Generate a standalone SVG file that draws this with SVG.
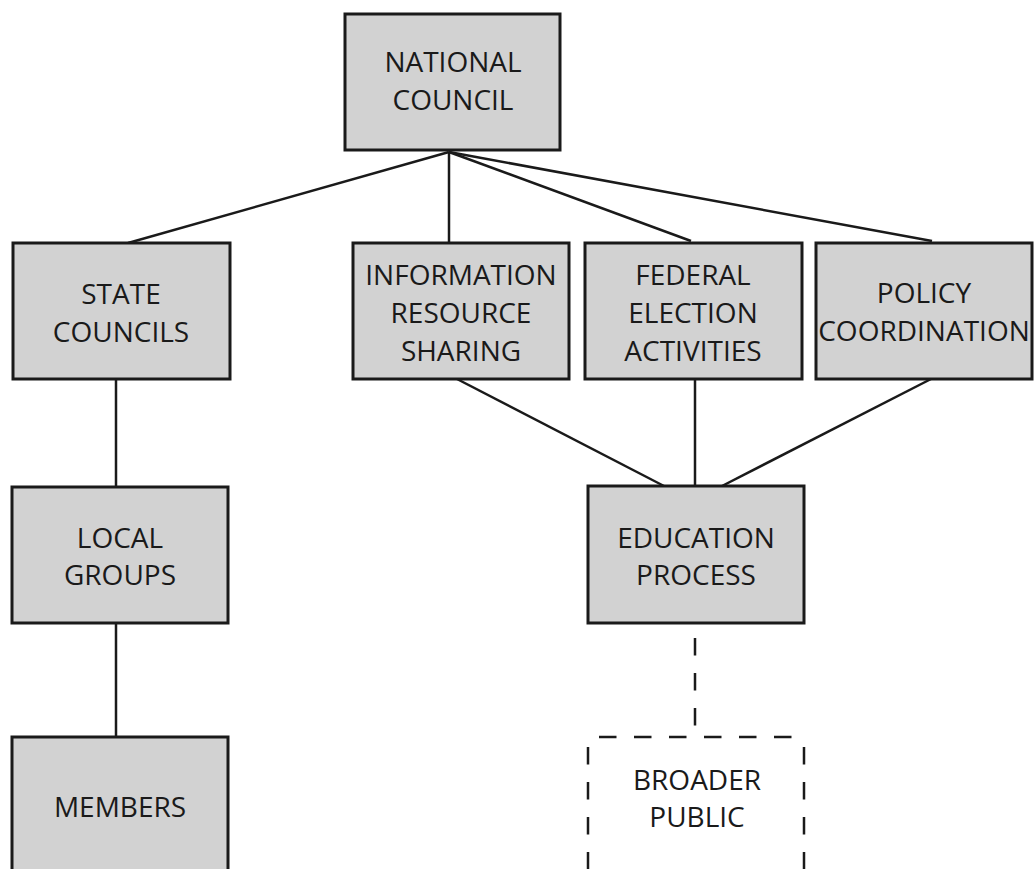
<svg xmlns="http://www.w3.org/2000/svg" width="1034" height="869" viewBox="0 0 1034 869">
<style>
.box{fill:#d2d2d2;stroke:#1a1a1a;stroke-width:3}
.lbl{font-family:"Open Sans","Liberation Sans",sans-serif;font-size:28px;fill:#1a1a1a;text-anchor:middle}
.con{stroke:#1a1a1a;stroke-width:2.5;fill:none}
.dash{stroke:#1a1a1a;stroke-width:2.5;fill:none;stroke-dasharray:17.5 17.5}
</style>
<rect width="1034" height="869" fill="#ffffff"/>
<g id="connectors">
<line class="con" x1="449" y1="152" x2="128" y2="243"/>
<line class="con" x1="449" y1="152" x2="449" y2="243"/>
<line class="con" x1="449" y1="152" x2="691" y2="241"/>
<line class="con" x1="449" y1="152" x2="932" y2="241"/>
<line class="con" x1="116" y1="379" x2="116" y2="487"/>
<line class="con" x1="116" y1="623" x2="116" y2="737"/>
<line class="con" x1="457" y1="379" x2="664" y2="486"/>
<line class="con" x1="695" y1="379" x2="695" y2="486"/>
<line class="con" x1="931" y1="379" x2="722" y2="486"/>
<line class="dash" x1="695" y1="638" x2="695" y2="728"/>
</g>
<g id="national-council">
<rect class="box" x="345" y="14" width="215" height="136"/>
<text class="lbl" x="453" y="72">NATIONAL</text>
<text class="lbl" x="453" y="110">COUNCIL</text>
</g>
<g id="state-councils">
<rect class="box" x="13" y="243" width="217" height="136"/>
<text class="lbl" x="121" y="304">STATE</text>
<text class="lbl" x="121" y="342">COUNCILS</text>
</g>
<g id="information-resource-sharing">
<rect class="box" x="353" y="243" width="216" height="136"/>
<text class="lbl" x="461" y="285">INFORMATION</text>
<text class="lbl" x="461" y="323">RESOURCE</text>
<text class="lbl" x="461" y="361">SHARING</text>
</g>
<g id="federal-election-activities">
<rect class="box" x="585" y="243" width="217" height="136"/>
<text class="lbl" x="693" y="285">FEDERAL</text>
<text class="lbl" x="693" y="323">ELECTION</text>
<text class="lbl" x="693" y="361">ACTIVITIES</text>
</g>
<g id="policy-coordination">
<rect class="box" x="816" y="243" width="216" height="136"/>
<text class="lbl" x="924" y="303">POLICY</text>
<text class="lbl" x="924" y="341">COORDINATION</text>
</g>
<g id="local-groups">
<rect class="box" x="12" y="487" width="216" height="136"/>
<text class="lbl" x="120" y="548">LOCAL</text>
<text class="lbl" x="120" y="585">GROUPS</text>
</g>
<g id="education-process">
<rect class="box" x="588" y="486" width="216" height="137"/>
<text class="lbl" x="696" y="548">EDUCATION</text>
<text class="lbl" x="696" y="585">PROCESS</text>
</g>
<g id="members">
<rect class="box" x="12" y="737" width="216" height="140"/>
<text class="lbl" x="120" y="817">MEMBERS</text>
</g>
<g id="broader-public">
<line class="dash" x1="587" y1="737" x2="804" y2="737" stroke-dashoffset="23"/>
<line class="dash" x1="588" y1="737" x2="588" y2="869" stroke-dashoffset="25"/>
<line class="dash" x1="804" y1="737" x2="804" y2="869" stroke-dashoffset="25"/>
<text class="lbl" x="697" y="790">BROADER</text>
<text class="lbl" x="697" y="827">PUBLIC</text>
</g>
</svg>
